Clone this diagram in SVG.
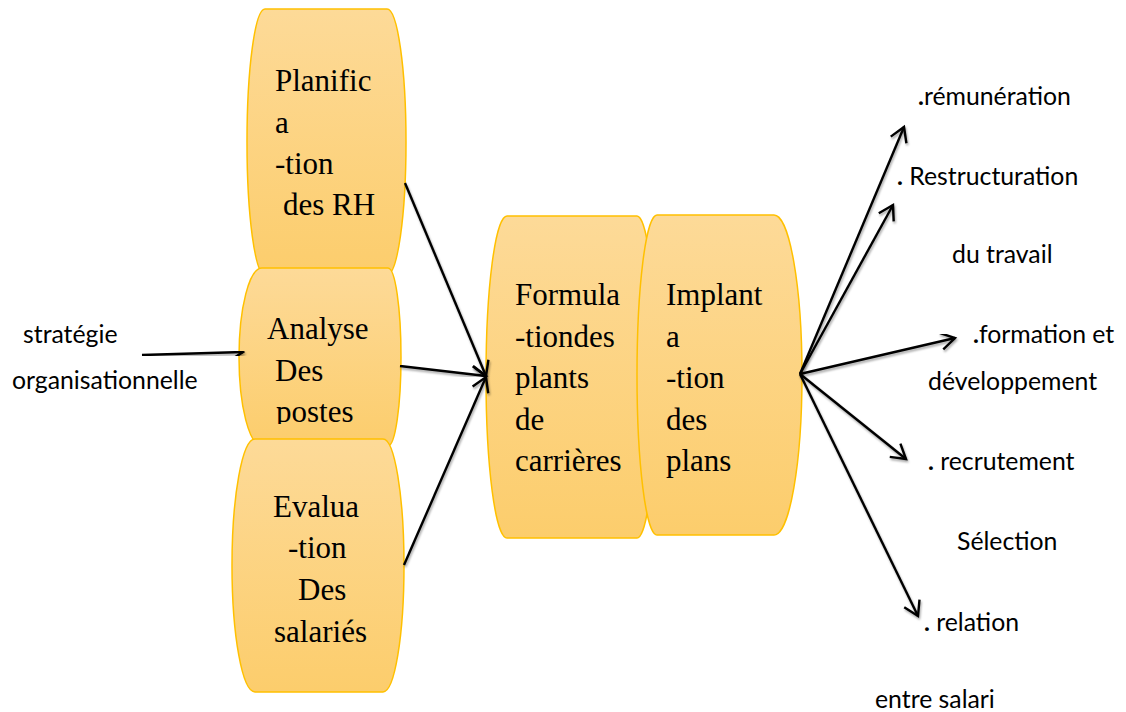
<svg xmlns="http://www.w3.org/2000/svg" width="1126" height="712" viewBox="0 0 1126 712">
  <defs>
    <linearGradient id="boxFill" x1="0" y1="0" x2="0" y2="1">
      <stop offset="0" stop-color="#FDDA98"/>
      <stop offset="1" stop-color="#FCCD6C"/>
    </linearGradient>
    <marker id="head" markerUnits="userSpaceOnUse" markerWidth="22" markerHeight="22" viewBox="0 0 22 22" refX="19" refY="11" orient="auto">
      <path d="M5,2.5 L19,11 L5,19.5" fill="none" stroke="#000" stroke-width="2.4" stroke-linejoin="miter"/>
    </marker>
    <filter id="shadow" x="-10%" y="-10%" width="120%" height="120%">
      <feDropShadow dx="1" dy="2" stdDeviation="0.8" flood-color="#000" flood-opacity="0.35"/>
    </filter>
    <clipPath id="clipAnalyse">
      <rect x="230" y="260" width="180" height="164"/>
    </clipPath>
  </defs>
  <style>
    .box { fill: url(#boxFill); stroke: #FFC000; stroke-width: 1.5; }
    .serif { font-family: "Liberation Serif", "Times New Roman", serif; font-size: 31px; fill: #000; }
    .sans { font-family: Lato, "Liberation Sans", sans-serif; font-size: 24.8px; fill: #000; }
    .dot { font-weight: bold; }
    .conn { fill: none; stroke: #000; stroke-width: 2.4; marker-end: url(#head); filter: url(#shadow); }
  </style>

  <rect width="1126" height="712" fill="#fff"/>

  <!-- left column -->
  <g id="node-planification">
    <path class="box" d="M265,9 H387 A19,133 0 0 1 387,275 H265 A18,133 0 0 1 265,9 Z"/>
    <text class="serif"><tspan x="275" y="91">Planific</tspan><tspan x="275" y="133">a</tspan><tspan x="275" y="174">-tion</tspan><tspan x="283" y="215">des RH</tspan></text>
  </g>

  <g id="node-analyse">
    <path class="box" d="M262,268 H388 A13,89 0 0 1 388,446 H262 A23,89 0 0 1 262,268 Z"/>
    <text class="serif" clip-path="url(#clipAnalyse)"><tspan x="267" y="339">Analyse</tspan><tspan x="275" y="381">Des</tspan><tspan x="276" y="422">postes</tspan></text>
  </g>

  <g id="node-evaluation">
    <path class="box" d="M255,439 H383 A21,126.5 0 0 1 383,692 H255 A23,126.5 0 0 1 255,439 Z"/>
    <text class="serif"><tspan x="273" y="517">Evalua</tspan><tspan x="288" y="558">-tion</tspan><tspan x="298" y="600">Des</tspan><tspan x="274" y="642">salariés</tspan></text>
  </g>

  <!-- middle pair -->
  <g id="node-formulation">
    <path class="box" d="M507,216 H637 A19,161 0 0 1 637,538 H507 A21,161 0 0 1 507,216 Z"/>
    <text class="serif"><tspan x="515" y="305">Formula</tspan><tspan x="515" y="347">-tiondes</tspan><tspan x="515" y="388">plants</tspan><tspan x="515" y="430">de</tspan><tspan x="515" y="471">carrières</tspan></text>
  </g>

  <g id="node-implantation">
    <path class="box" d="M657,215 H774 A28,160 0 0 1 774,535 H657 A20,160 0 0 1 657,215 Z"/>
    <text class="serif"><tspan x="666" y="305">Implant</tspan><tspan x="666" y="347">a</tspan><tspan x="666" y="388">-tion</tspan><tspan x="666" y="430">des</tspan><tspan x="666" y="471">plans</tspan></text>
  </g>

  <!-- input and outcome labels -->
  <g id="label-strategie">
    <text class="sans" x="23" y="343">stratégie</text>
    <text class="sans" x="12" y="389">organisationnelle</text>
  </g>
  <g id="label-remuneration">
    <text class="sans" x="918" y="105"><tspan class="dot">.</tspan>rémunération</text>
  </g>
  <g id="label-restructuration">
    <text class="sans" x="897" y="185"><tspan class="dot">.</tspan> Restructuration</text>
    <text class="sans" x="952" y="263">du travail</text>
  </g>
  <g id="label-formation">
    <text class="sans" x="973" y="343"><tspan class="dot">.</tspan>formation et</text>
    <text class="sans" x="928" y="390">développement</text>
  </g>
  <g id="label-recrutement">
    <text class="sans" x="928" y="470"><tspan class="dot">.</tspan> recrutement</text>
    <text class="sans" x="957" y="550">Sélection</text>
  </g>
  <g id="label-relation">
    <text class="sans" x="924" y="631"><tspan class="dot">.</tspan> relation</text>
    <text class="sans" x="875" y="708">entre salari</text>
  </g>

  <!-- connectors -->
  <g id="connectors">
    <line class="conn" x1="142" y1="355" x2="243" y2="352"/>
    <line class="conn" x1="405" y1="183" x2="486" y2="376"/>
    <line class="conn" x1="400" y1="366" x2="486" y2="376"/>
    <line class="conn" x1="404" y1="565" x2="486" y2="377"/>
    <line class="conn" x1="800" y1="374" x2="904" y2="127"/>
    <line class="conn" x1="800" y1="374" x2="893" y2="205"/>
    <line class="conn" x1="800" y1="374" x2="955" y2="338"/>
    <line class="conn" x1="800" y1="374" x2="906" y2="459"/>
    <line class="conn" x1="800" y1="374" x2="918" y2="616"/>
  </g>
</svg>
